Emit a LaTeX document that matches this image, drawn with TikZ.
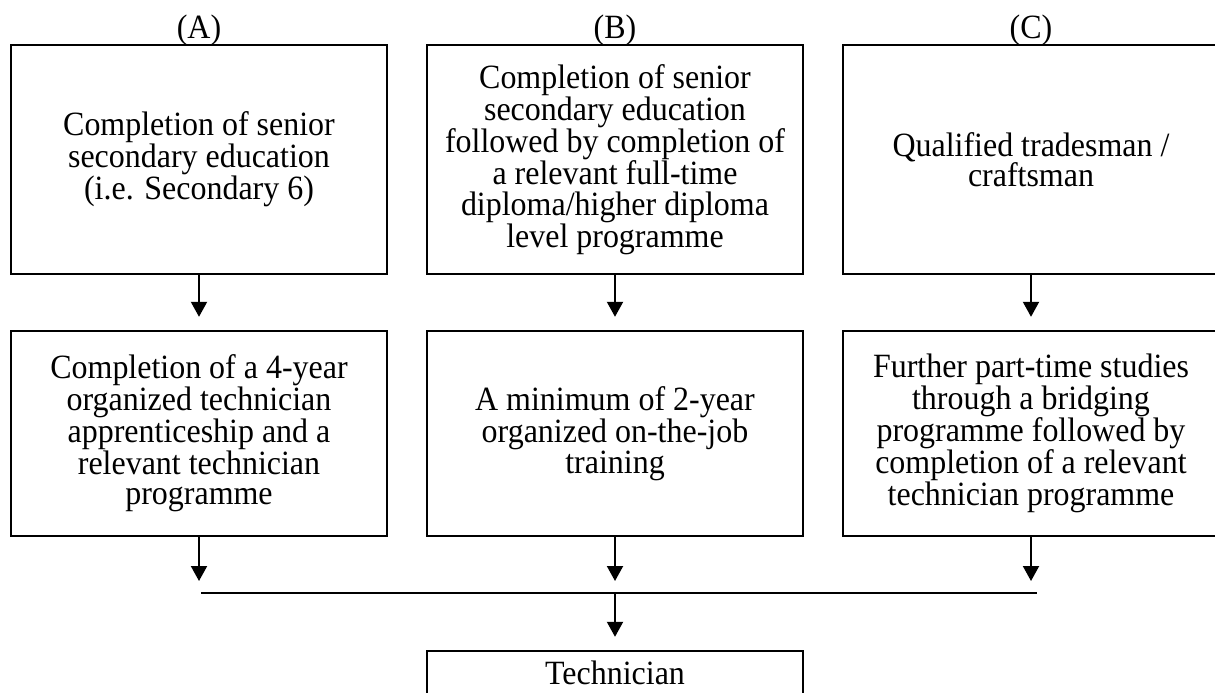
\documentclass[tikz,border=0pt]{standalone}
\usepackage{fontspec}
\setmainfont{Liberation Serif}
\newfontfamily\tallserif[FakeStretch=0.94]{Liberation Serif}
\usetikzlibrary{arrows.meta}
\begin{document}
\begin{tikzpicture}[x=1pt,y=-1pt,
  box/.style={draw,line width=2.4pt,minimum width=376pt,inner sep=0pt,align=center,
    font=\tallserif\fontsize{34}{30.5}\selectfont},
  lab/.style={anchor=base,inner sep=0pt,font=\tallserif\fontsize{34}{30.5}\selectfont},
  arr/.style={line width=2pt,-{Triangle[width=16pt,length=15pt]},shorten >=13pt},
  bar/.style={line width=2.4pt}]
\useasboundingbox (0,0) rectangle (1215,693);
\clip (0,0) rectangle (1215,693);
% labels
\node[lab] (la) at (199,39) {(A)};
\node[lab] (lb) at (615,39) {(B)};
\node[lab] (lc) at (1031,39) {(C)};
% first row
\node[box,minimum height=229pt] (a1) at (199,159.5) {Completion of senior\\secondary education\\(i.e. Secondary 6)};
\node[box,minimum height=229pt] (b1) at (615,159.5) {Completion of senior\\secondary education\\followed by completion of\\a relevant full-time\\diploma/higher diploma\\level programme};
\node[box,minimum height=229pt] (c1) at (1031,159.5) {Qualified tradesman /\\craftsman};
% second row
\node[box,minimum height=205pt] (a2) at (199,433.5) {Completion of a 4-year\\organized technician\\apprenticeship and a\\relevant technician\\programme};
\node[box,minimum height=205pt] (b2) at (615,433.5) {A minimum of 2-year\\organized on-the-job\\training};
\node[box,minimum height=205pt] (c2) at (1031,433.5) {Further part-time studies\\through a bridging\\programme followed by\\completion of a relevant\\technician programme};
% technician
\node[draw,line width=2.4pt,minimum width=376pt,minimum height=60pt,inner sep=0pt] (t) at (615,681) {};
\node[lab] (tl) at (615,684) {Technician};
% connectors
\draw[arr] (a1.south) -- (a2.north);
\draw[arr] (b1.south) -- (b2.north);
\draw[arr] (c1.south) -- (c2.north);
\coordinate (hl) at (201,593);
\coordinate (hr) at (1037,593);
\draw[bar] (hl) -- (hr);
\draw[arr,shorten >=12pt] (a2.south) -- (a2.south |- hl);
\draw[arr,shorten >=12pt] (b2.south) -- (b2.south |- hl);
\draw[arr,shorten >=12pt] (c2.south) -- (c2.south |- hl);
\draw[arr] (b2.south |- hl) -- (t.north);
\end{tikzpicture}
\end{document}
